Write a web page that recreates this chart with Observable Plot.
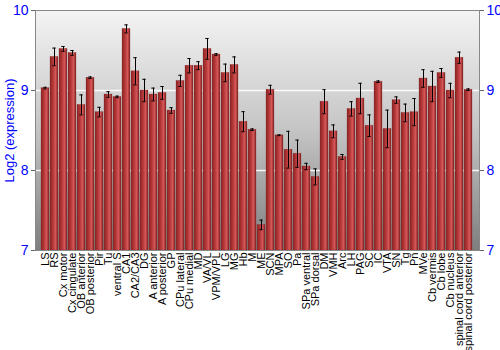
<!DOCTYPE html>
<html><head><meta charset="utf-8">
<script src="https://cdn.jsdelivr.net/npm/d3@7"></script>
<script src="https://cdn.jsdelivr.net/npm/@observablehq/plot@0.6"></script>
<style>body{margin:0;background:#fff;font-family:"Liberation Sans",Arial,sans-serif}</style>
</head><body><div id="chart"></div>
<script>
const regions = ["LS","RS","Cx motor","Cx cingulate","OB anterior","OB posterior","Pir","Tu","ventral S","CA1","CA2/CA3","DG","A anterior","A posterior","GP","CPu lateral","CPu medial","MD","VA/VL","VPM/VPL","LG","MG","Hb","M","ME","SCN","MPA","SO","Pa","SPa ventral","SPa dorsal","DM","VMH","Arc","LH","PAG","SC","IC","VTA","SN","Tg","Pn","MVe","Cb vermis","Cb lobe","Cb nucleus","spinal cord anterior","spinal cord posterior"];
const expression = [9.03,9.42,9.52,9.47,8.82,9.16,8.73,8.95,8.92,9.77,9.24,9.00,8.95,8.97,8.75,9.12,9.31,9.31,9.52,9.45,9.22,9.32,8.61,8.51,7.32,9.01,8.44,8.26,8.21,8.05,7.92,8.86,8.49,8.17,8.77,8.90,8.56,9.11,8.52,8.88,8.72,8.73,9.15,9.05,9.22,9.00,9.41,9.01];
const errors = [0.01,0.11,0.03,0.03,0.125,0.01,0.06,0.035,0.01,0.05,0.17,0.14,0.08,0.08,0.035,0.07,0.09,0.05,0.13,0.01,0.11,0.1,0.125,0.01,0.06,0.055,0.005,0.23,0.17,0.04,0.1,0.15,0.08,0.03,0.09,0.19,0.135,0.01,0.235,0.04,0.11,0.17,0.11,0.19,0.055,0.09,0.07,0.01];
const yTicks = [7,8,9,10];

const data = regions.map((r,i)=>({r, v:expression[i], lo:expression[i]-errors[i], hi:expression[i]+errors[i]}));

const plot = Plot.plot({
  width: 500, height: 350,
  marginLeft: 35, marginRight: 21, marginTop: 10, marginBottom: 100,
  style: {fontFamily: "Liberation Sans, Arial, sans-serif", background: "white"},
  x: {domain: regions, padding: 0.1, label: null},
  y: {domain: [7,10], label: null},
  marks: [
    Plot.frame({fill: "url(#bgGrad)", stroke: null}),
    Plot.ruleY([8,9], {stroke: "white", strokeWidth: 1.5, strokeOpacity: 0.9}),
    Plot.barY(data, {x: "r", y1: 7, y2: "v", fill: "url(#barGrad)", stroke: "#7a2a2a", strokeWidth: 0.5, strokeOpacity: 0.5}),
    Plot.ruleX(data, {x: "r", y1: "lo", y2: "hi", stroke: "black", strokeWidth: 1}),
    Plot.tickY(data, {x: "r", y: "lo", stroke: "black", insetLeft: 2.3, insetRight: 2.3}),
    Plot.tickY(data, {x: "r", y: "hi", stroke: "black", insetLeft: 2.3, insetRight: 2.3}),
    Plot.frame({stroke: "#888", fill: null}),
    Plot.axisY({anchor: "left", ticks: yTicks, tickFormat: d3.format("d"), tickSize: 4, tickPadding: 3, fontSize: 14, color: "blue", label: null}),
    Plot.axisY({anchor: "right", ticks: yTicks, tickFormat: d3.format("d"), tickSize: 4, tickPadding: 3, fontSize: 14, color: "blue", label: null}),
    Plot.axisX({tickRotate: -90, tickSize: 0, tickPadding: 2, fontSize: 11, color: "black", label: null}),
    Plot.text(["Log2 (expression)"], {frameAnchor: "left", textAnchor: "middle", dx: -26, rotate: -90, fontSize: 13, fill: "blue"})
  ]
});

const svg = d3.select(plot);
const defs = svg.insert("defs", ":first-child");
const bg = defs.append("linearGradient").attr("id","bgGrad").attr("x1",0).attr("y1",0).attr("x2",0).attr("y2",1);
bg.append("stop").attr("offset","0%").attr("stop-color","#f4f4f4");
bg.append("stop").attr("offset","50%").attr("stop-color","#c4c4c4");
bg.append("stop").attr("offset","100%").attr("stop-color","#7e7e7e");
const bar = defs.append("linearGradient").attr("id","barGrad").attr("x1",0).attr("y1",0).attr("x2",1).attr("y2",0);
bar.append("stop").attr("offset","0%").attr("stop-color","#8a2424");
bar.append("stop").attr("offset","35%").attr("stop-color","#b33636");
bar.append("stop").attr("offset","70%").attr("stop-color","#d55757");
bar.append("stop").attr("offset","100%").attr("stop-color","#7e1f1f");
svg.selectAll('g[aria-label="y-axis tick"] path').attr("stroke","#666");
document.getElementById("chart").appendChild(plot);
</script></body></html>
